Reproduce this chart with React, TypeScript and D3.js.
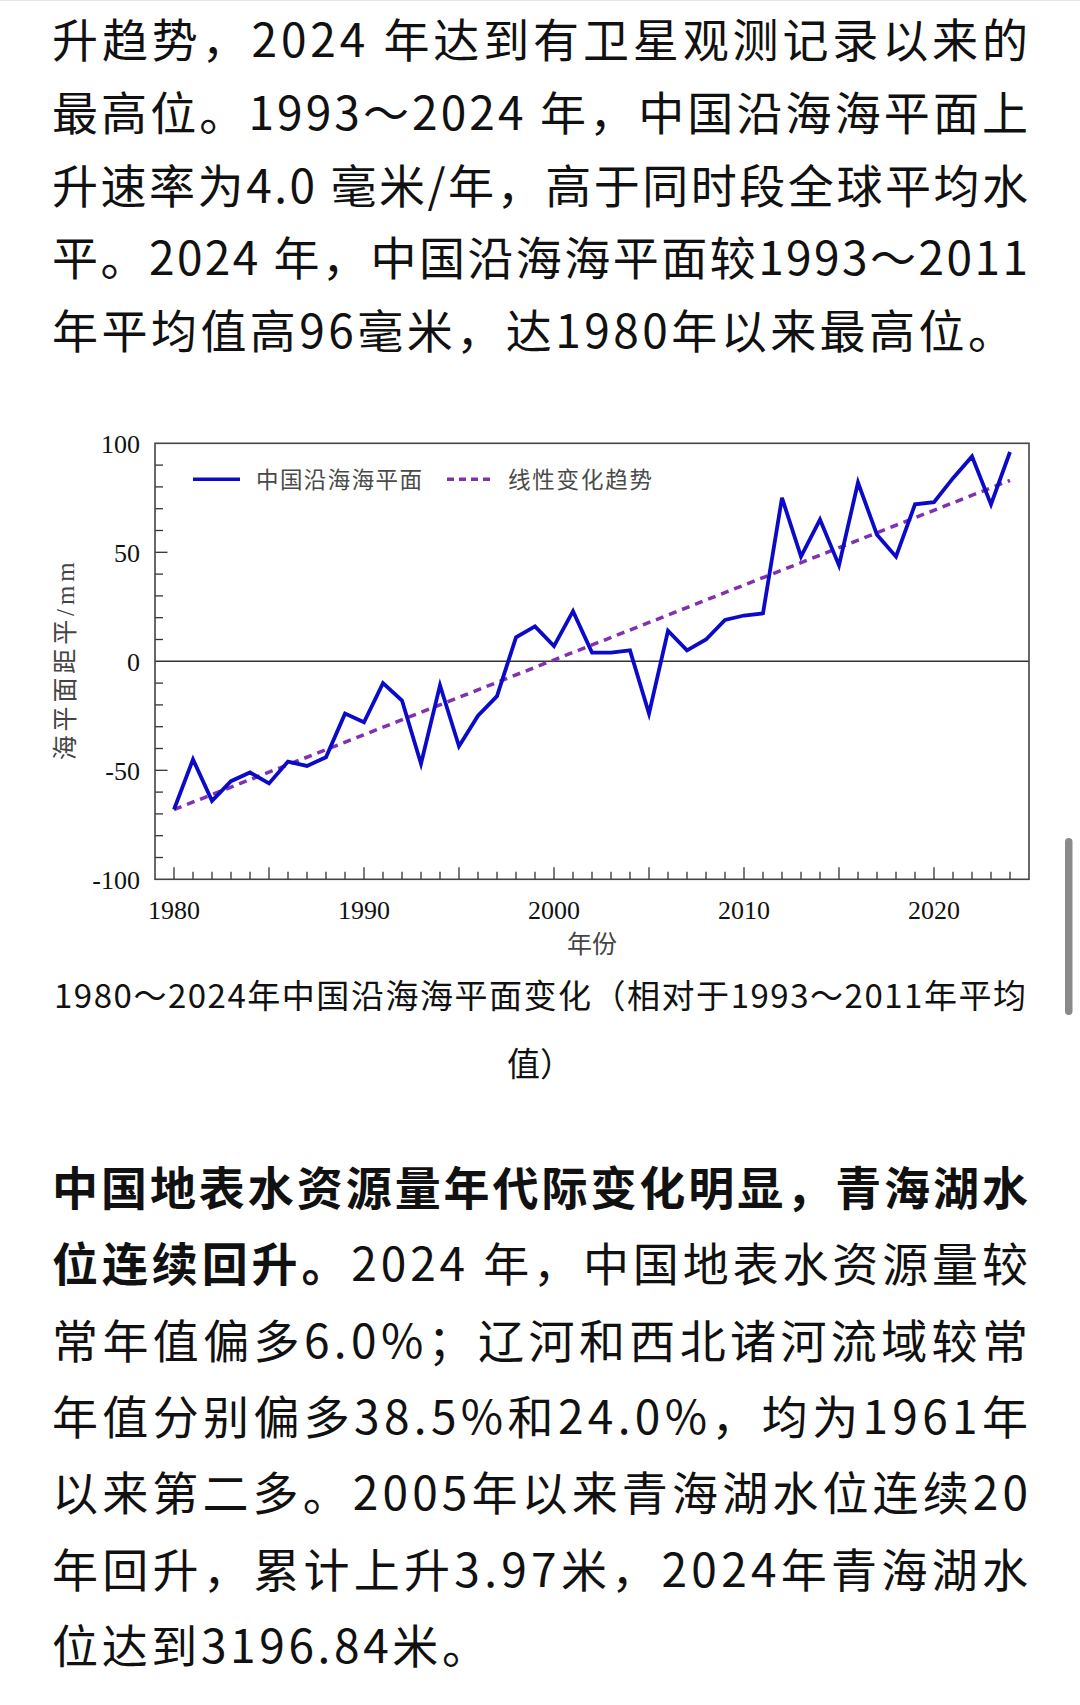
import React, { useRef, useEffect } from 'react';
import * as d3 from 'd3';

// sea level anomaly, China coast (mm, vs 1993-2011 mean)
const years = [
  1980, 1981, 1982, 1983, 1984, 1985, 1986, 1987, 1988, 1989,
  1990, 1991, 1992, 1993, 1994, 1995, 1996, 1997, 1998, 1999,
  2000, 2001, 2002, 2003, 2004, 2005, 2006, 2007, 2008, 2009,
  2010, 2011, 2012, 2013, 2014, 2015, 2016, 2017, 2018, 2019,
  2020, 2021, 2022, 2023, 2024,
];
const seaLevel = [
  -68, -45, -64, -55, -51, -56, -46, -48, -44, -24,
  -28, -10, -18, -47, -11, -39, -25, -16, 11, 16,
  7, 23, 4, 4, 5, -24, 14, 5, 10, 19,
  21, 22, 75, 48, 65, 44, 82, 58, 48, 72,
  73, 84, 94, 72, 96,
];
// linear trend end points
const trendYears = [1980, 2024];
const trendValues = [-68, 83];

const xLabelTicks = [1980, 1990, 2000, 2010, 2020];
const yLabelTicks = [-100, -50, 0, 50, 100];
const yMinorTicks = [-90, -80, -70, -60, -50, -40, -30, -20, -10, 10, 20, 30, 40, 50, 60, 70, 80, 90];

const legendLabels = ['中国沿海海平面', '线性变化趋势'];
const yTitle = '海平面距平/mm';
const xTitle = '年份';

const para1 = [
  '升趋势，2024 年达到有卫星观测记录以来的',
  '最高位。1993～2024 年，中国沿海海平面上',
  '升速率为4.0 毫米/年，高于同时段全球平均水',
  '平。2024 年，中国沿海海平面较1993～2011',
  '年平均值高96毫米，达1980年以来最高位。',
];
const caption = ['1980～2024年中国沿海海平面变化（相对于1993～2011年平均', '值）'];
// [bold part, regular part]
const para2 = [
  ['中国地表水资源量年代际变化明显，青海湖水', ''],
  ['位连续回升。', '2024 年，中国地表水资源量较'],
  ['', '常年值偏多6.0%；辽河和西北诸河流域较常'],
  ['', '年值分别偏多38.5%和24.0%，均为1961年'],
  ['', '以来第二多。2005年以来青海湖水位连续20'],
  ['', '年回升，累计上升3.97米，2024年青海湖水'],
  ['', '位达到3196.84米。'],
];

const CJK = '"Noto Sans CJK SC", "Noto Sans", sans-serif';
const SERIF = '"Liberation Serif", "Noto Sans CJK SC", serif';

const App = () => {
  const svgRef = useRef(null);

  useEffect(() => {
    const svg = d3.select(svgRef.current);
    svg.selectAll('*').remove();

    svg.append('rect').attr('width', 1080).attr('height', 1705).attr('fill', '#fff');
    svg.append('line')
      .attr('x1', 0).attr('x2', 1080).attr('y1', 0.5).attr('y2', 0.5)
      .attr('stroke', '#e4e4e4');

    // paragraph 1
    const p1 = svg.append('g').attr('font-family', CJK).attr('font-size', 46).attr('fill', '#111');
    para1.forEach((t, i) => {
      p1.append('text')
        .attr('x', 52)
        .attr('y', 57 + i * 72.8)
        .attr('textLength', i === para1.length - 1 ? 962 : 976)
        .attr('lengthAdjust', 'spacing')
        .text(t);
    });

    // chart
    const left = 155, right = 1029, top = 443.3, bottom = 879.3;
    const x = d3.scaleLinear().domain([1979, 2025]).range([left, right]);
    const y = d3.scaleLinear().domain([-100, 100]).range([bottom, top]);

    const g = svg.append('g');

    g.append('line')
      .attr('x1', left).attr('x2', right)
      .attr('y1', y(0)).attr('y2', y(0))
      .attr('stroke', '#333').attr('stroke-width', 1.5);

    // y ticks (inside)
    g.selectAll('.ytick')
      .data(yMinorTicks)
      .enter()
      .append('line')
      .attr('x1', left)
      .attr('x2', d => left + (d % 50 === 0 ? 12.5 : 8))
      .attr('y1', d => y(d)).attr('y2', d => y(d))
      .attr('stroke', '#333').attr('stroke-width', 1.3);

    // x ticks (inside)
    g.selectAll('.xtick')
      .data(years)
      .enter()
      .append('line')
      .attr('x1', d => x(d)).attr('x2', d => x(d))
      .attr('y1', bottom)
      .attr('y2', d => bottom - (d % 5 === 0 ? 12 : 7.5))
      .attr('stroke', '#333').attr('stroke-width', 1.3);

    g.append('rect')
      .attr('x', left).attr('y', top)
      .attr('width', right - left).attr('height', bottom - top)
      .attr('fill', 'none').attr('stroke', '#444').attr('stroke-width', 1.6);

    g.selectAll('.ylab')
      .data(yLabelTicks)
      .enter()
      .append('text')
      .attr('x', 140)
      .attr('y', d => y(d) + 9.5)
      .attr('text-anchor', 'end')
      .attr('font-family', SERIF).attr('font-size', 26).attr('fill', '#111')
      .text(d => d);

    g.selectAll('.xlab')
      .data(xLabelTicks)
      .enter()
      .append('text')
      .attr('x', d => x(d))
      .attr('y', 919)
      .attr('text-anchor', 'middle')
      .attr('font-family', SERIF).attr('font-size', 26).attr('fill', '#111')
      .text(d => d);

    g.append('text')
      .attr('x', (left + right) / 2)
      .attr('y', 953)
      .attr('text-anchor', 'middle')
      .attr('font-family', SERIF).attr('font-size', 25).attr('fill', '#444')
      .text(xTitle);

    g.append('text')
      .attr('transform', `translate(74, ${y(0)}) rotate(-90)`)
      .attr('text-anchor', 'middle')
      .attr('font-family', SERIF).attr('font-size', 25).attr('fill', '#444')
      .attr('textLength', 198).attr('lengthAdjust', 'spacing')
      .text(yTitle);

    // trend
    const line = d3.line().x(d => x(d[0])).y(d => y(d[1]));
    g.append('path')
      .datum(trendYears.map((yr, i) => [yr, trendValues[i]]))
      .attr('d', line)
      .attr('fill', 'none')
      .attr('stroke', '#8030b0')
      .attr('stroke-width', 3.5)
      .attr('stroke-dasharray', '8 6');

    // observed
    g.append('path')
      .datum(years.map((yr, i) => [yr, seaLevel[i]]))
      .attr('d', line)
      .attr('fill', 'none')
      .attr('stroke', '#0a0ac8')
      .attr('stroke-width', 3.8)
      .attr('stroke-linejoin', 'miter');

    // legend
    const lg = g.append('g');
    lg.append('line')
      .attr('x1', 193).attr('x2', 240).attr('y1', 479.3).attr('y2', 479.3)
      .attr('stroke', '#0a0ac8').attr('stroke-width', 3.6);
    lg.append('text')
      .attr('x', 256).attr('y', 488)
      .attr('font-family', CJK).attr('font-size', 22.5).attr('fill', '#4a4a4a')
      .attr('textLength', 166).attr('lengthAdjust', 'spacing')
      .text(legendLabels[0]);
    lg.append('line')
      .attr('x1', 447).attr('x2', 494).attr('y1', 479.3).attr('y2', 479.3)
      .attr('stroke', '#8030b0').attr('stroke-width', 3.5)
      .attr('stroke-dasharray', '7 5');
    lg.append('text')
      .attr('x', 508).attr('y', 488)
      .attr('font-family', CJK).attr('font-size', 22.5).attr('fill', '#4a4a4a')
      .attr('textLength', 144).attr('lengthAdjust', 'spacing')
      .text(legendLabels[1]);

    // caption
    const cap = svg.append('g').attr('font-family', CJK).attr('font-size', 33).attr('fill', '#111');
    cap.append('text')
      .attr('x', 54).attr('y', 1008)
      .attr('textLength', 972).attr('lengthAdjust', 'spacing')
      .text(caption[0]);
    cap.append('text')
      .attr('x', 540).attr('y', 1076)
      .attr('text-anchor', 'middle')
      .text(caption[1]);

    // paragraph 2
    const p2 = svg.append('g').attr('font-family', CJK).attr('font-size', 46).attr('fill', '#111');
    para2.forEach((parts, i) => {
      const t = p2.append('text')
        .attr('x', 52)
        .attr('y', 1205 + i * 76.3)
        .attr('textLength', i === para2.length - 1 ? 436 : 976)
        .attr('lengthAdjust', 'spacing');
      if (parts[0]) t.append('tspan').attr('font-weight', 'bold').text(parts[0]);
      if (parts[1]) t.append('tspan').text(parts[1]);
    });

    // scroll indicator
    svg.append('rect')
      .attr('x', 1065).attr('y', 838)
      .attr('width', 7.5).attr('height', 177)
      .attr('rx', 3.75)
      .attr('fill', '#8a8a8a');
  }, []);

  return (
    <svg
      ref={svgRef}
      width={1080}
      height={1705}
      style={{ position: 'absolute', left: 0, top: 0, display: 'block' }}
    />
  );
};

export default App;
